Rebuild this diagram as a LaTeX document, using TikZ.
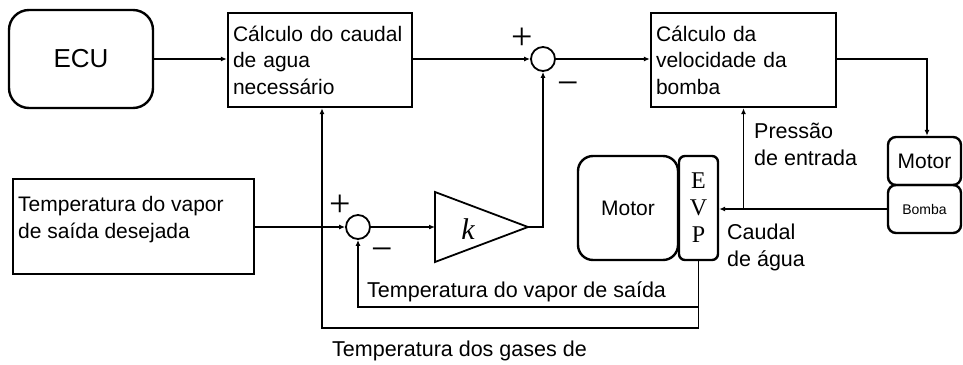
\documentclass[tikz,border=0pt]{standalone}
\usepackage{fontspec}
\setmainfont{Liberation Sans}
\newfontfamily\evpfont{Liberation Serif}
\usetikzlibrary{arrows.meta}
\begin{document}
\begin{tikzpicture}[x=1pt,y=-1pt,
  box/.style={draw,line width=2.4pt,inner sep=0pt},
  txtbox/.style={box,align=left,font=\fontsize{21}{26.5}\selectfont,inner xsep=5pt},
  txt/.style={align=left,inner sep=0pt,font=\fontsize{21.5}{27}\selectfont},
  sumc/.style={draw,circle,line width=1.8pt,minimum size=24pt,inner sep=0pt},
  sign/.style={inner sep=0pt,font=\evpfont\fontsize{38}{40}\selectfont},
  conn/.style={line width=1.7pt},
  arr/.style={conn,-{Latex[length=6pt,width=5pt]}},
]
\useasboundingbox (0,0) rectangle (963,364);

% blocks
\node[box,rounded corners=20pt,minimum width=144pt,minimum height=98pt,
      font=\fontsize{26}{30}\selectfont] (ecu) at (81,59) {ECU};
\node[txtbox,text width=174pt,minimum height=94pt] (calc1) at (320,60)
  {Cálculo do caudal\\de agua\\necessário};
\node[sumc] (sum1) at (543,59) {};
\node[txtbox,text width=175pt,minimum height=94pt] (calc2) at (743.5,60)
  {Cálculo da\\velocidade da\\bomba};
\node[box,rounded corners=8pt,minimum width=73pt,minimum height=48pt,
      font=\fontsize{21}{24}\selectfont] (motorR) at (924.5,161) {Motor};
\node[box,rounded corners=8pt,minimum width=73pt,minimum height=48pt,
      font=\fontsize{14}{16}\selectfont] (bomba) at (924.5,209) {Bomba};
\node[box,minimum width=241pt,minimum height=95pt] (tbox) at (133.5,226.5) {};
\node[txt,anchor=west,font=\fontsize{21}{26.5}\selectfont] (tboxtxt) at (18,219.5) {Temperatura do vapor\\de saída desejada};
\node[sumc] (sum2) at (358,227) {};
\coordinate (gin) at (435,227);
\coordinate (gout) at (528,227);
\draw[line width=1.8pt,line join=miter] (435,192) -- (gout) -- (435,262) -- cycle;
\node[inner sep=0pt,font=\evpfont\itshape\fontsize{30}{34}\selectfont] (gain) at (468,229) {k};
\node[box,rounded corners=15pt,minimum width=100pt,minimum height=104pt,
      font=\fontsize{21}{24}\selectfont] (motorL) at (628,208) {Motor};
\node[box,rounded corners=6pt,minimum width=39pt,minimum height=104pt,
      align=center,font=\evpfont\fontsize{24}{27}\selectfont] (evp) at (698.5,208) {E\\V\\P};

% signs
\node[sign] (p1) at (522,39) {+};
\node[sign] (m1) at (568,89) {−};
\node[sign] (p2) at (340,206) {+};
\node[sign] (m2) at (382,255) {−};

% labels
\node[txt,anchor=west] (lpress) at (754,144.5) {Pressão\\de entrada};
\node[txt,anchor=west] (lcaud) at (727,247.5) {Caudal\\de água};
\node[txt,anchor=west] (lvap) at (367,292) {Temperatura do vapor de saída};
\node[txt,anchor=west] (lgas) at (332,351) {Temperatura dos gases de};

% helper coordinates
\coordinate (yin) at (0,307);
\coordinate (yout) at (0,328);
\coordinate (xo) at (322,0);
\coordinate (xm) at (927,0);

% connectors
\draw[arr] (ecu.east |- 0,59) -- (calc1.west |- 0,59);
\draw[arr] (calc1.east |- sum1) -- (sum1.west);
\draw[arr] (sum1.east) -- (calc2.west |- sum1);
\draw[arr] (calc2.east |- sum1) -| (xm |- motorR.north);
\draw[arr] (bomba.west) -- (bomba.west -| evp.east);
\draw[arr] (calc2.south |- bomba.west) -- (calc2.south);
\draw[arr] (tbox.east |- sum2) -- (sum2.west);
\draw[arr] (sum2.east) -- (gin);
\draw[arr] (gout) -| (sum1.south);
\draw[arr] (evp.south) -- (evp.south |- yin) -| (sum2.south);
\draw[arr] (evp.south |- yin) -- (evp.south |- yout) -| (xo |- calc1.south);
\end{tikzpicture}
\end{document}
